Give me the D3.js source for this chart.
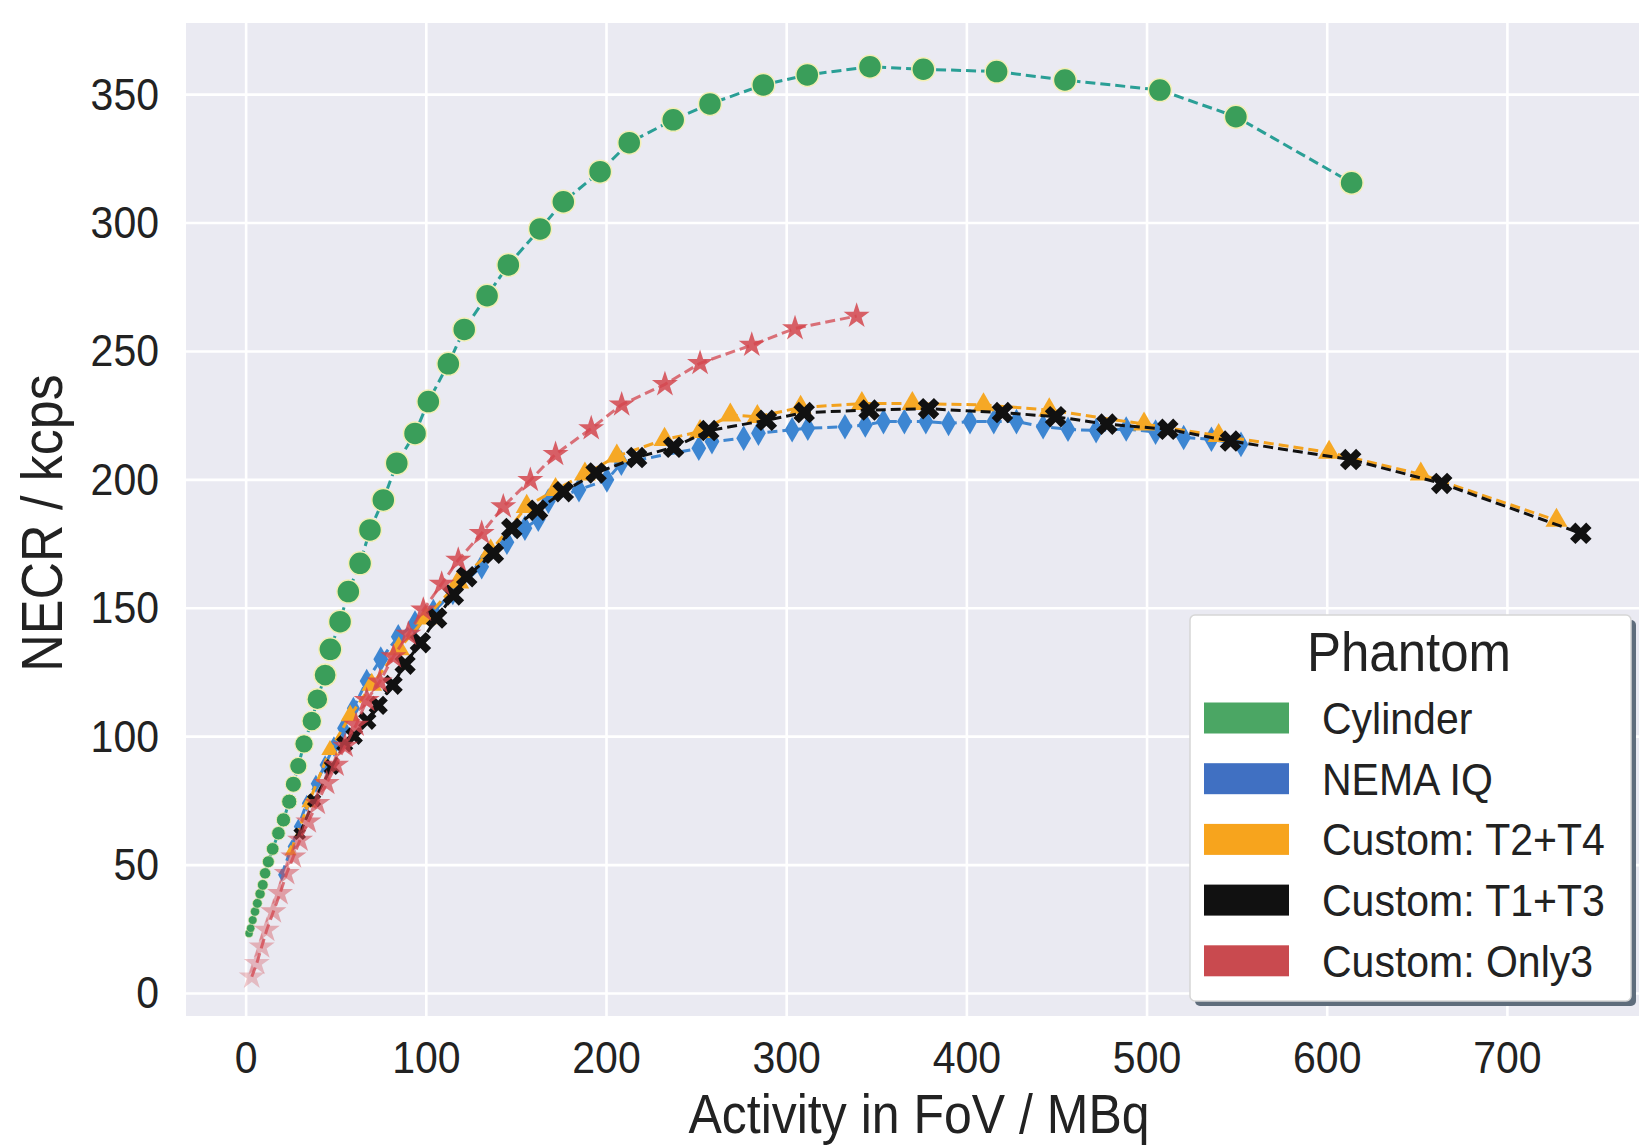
<!DOCTYPE html>
<html>
<head>
<meta charset="utf-8">
<script src="https://cdn.jsdelivr.net/npm/d3@7"></script>
<style>
body { margin:0; background:#fff; }
svg text { font-family: "Liberation Sans", Arial, sans-serif; fill:#222; }
</style>
</head>
<body>
<div id="graphe"></div>
<script>
// data (activity MBq / NECR kcps)
var cylX = [1.9,2.8,3.9,5.2,6.5,8.0,9.5,10.8,12.6,15.0,18.2,21.0,24.2,26.5,29.2,32.4,36.7,39.8,44.1,47.0,52.4,57.0,63.5,69.0,76.4,83.9,94.0,101.4,112.5,121.3,134.0,145.8,163.4,176.3,196.7,212.9,237.3,257.7,287.3,311.7,346.5,376.1,416.8,454.7,507.4,549.6,613.8];
var cylY = [23.2,25.2,28.4,31.7,34.9,38.6,42.1,46.6,51.1,56.1,62.2,67.4,74.5,81.3,88.4,97.0,105.9,114.4,123.8,133.8,144.6,156.3,167.3,180.3,192.0,206.3,217.9,230.3,245.0,258.4,271.5,283.5,297.5,308.1,319.8,331.1,340.0,346.2,353.6,357.5,360.7,359.7,358.8,355.5,351.6,341.2,315.5];

var nemaX = [20,25.6,29.2,33.9,39,44.1,49,54.2,59.8,67.2,75,84.7,94,104.2,115,131,145,155,162.4,168,185,200.5,208.5,251.5,258.8,276.4,284.6,303.3,312,332.6,343.9,354,365.6,377.5,390.1,402,415.2,427.8,442.6,456.4,472,488.7,505,520.6,536,552.4];
var nemaY = [46,57,64.8,73.9,81.5,88.8,96,103.1,110.9,121.5,130,138.7,144,148.5,156,166,175.5,181,184.5,191.5,196,199.8,206.3,212.1,214.7,216,218,219.3,219.9,220.5,221.2,222.5,222.5,222.5,221.8,222.5,222.5,222.5,220.5,219.5,219,219.6,218.4,216.3,215.6,213.6];

var t24X = [25,35,46.8,58,70,85,100,118,136,156,172,188.3,206,232.5,252.2,269,284,308,342,370,409.5,446,498.6,540,601.3,652.2,727.5];
var t24Y = [55,74,94.6,108,120,134,146,160,172,189.4,196,202,209,215.5,218.6,225,224.4,228,229.5,229.5,229,227,221.5,217,210.5,202,184];

var t13X = [30,38,47.8,55,60.2,67.5,73.6,81.6,88.5,97,106,115.3,122.7,137.5,147.7,162,176.3,194.5,217,237.5,257,289,310,346,379,420,449.5,478,511.8,546.6,613.3,663.8,741];
var t13Y = [62,75,88,97,100,106,112,120,128,136.4,146,155,162.1,171.2,180.9,188,195.2,202.5,208.5,212.5,219,223,226,227,227.5,226,224.4,221.5,219.5,214.9,207.7,198.4,179];

var only3X = [3.4,6.2,8.9,11.7,15.4,19.1,22.8,26.5,30.2,34.8,39.8,45.0,50.2,55.2,61.3,67.2,74.4,82.0,90.3,98.6,108.8,118.0,131.0,143.0,158.0,172.0,191.8,208.7,232.7,252.2,280.9,304.9,339.1];
var only3Y = [6.3,11.6,18.0,24.5,31.7,38.8,46.6,53.1,59.6,66.7,73.9,81.7,88.8,96.2,104.4,114.0,121.2,131.0,139.8,149.2,159.3,168.6,179.0,189.4,199.7,209.8,219.8,229.1,237.0,245.2,252.3,258.8,263.6];

var phantoms = ["Cylinder","NEMA IQ","Custom: T2+T4","Custom: T1+T3","Custom: Only3"];
var xTicks = [0,100,200,300,400,500,600,700];
var yTicks = [0,50,100,150,200,250,300,350];

var svgwidth = 1639, svgheight = 1145;
var box = {left:186, right:1639, top:23, bottom:1016};

function zipXY(xs, ys){
	var d=[];
	xs.forEach(function(v,i){ d.push({x:v, y:ys[i]}); });
	return d;
}

var series = [
	{name:phantoms[0], data:zipXY(cylX,cylY), line:"#2a9f96", fill:"#3a9e5a", edge:"#f3efb4", patch:"#4ba664", shape:"circle"},
	{name:phantoms[1], data:zipXY(nemaX,nemaY), line:"#3f86d0", fill:"#3d86d2", edge:"none", patch:"#4070c2", shape:"diamond"},
	{name:phantoms[2], data:zipXY(t24X,t24Y), line:"#f3a21e", fill:"#f6a825", edge:"none", patch:"#f7a41d", shape:"triangle"},
	{name:phantoms[3], data:zipXY(t13X,t13Y), line:"#111", fill:"#111", edge:"none", patch:"#111", shape:"x"},
	{name:phantoms[4], data:zipXY(only3X,only3Y), line:"#d3464e", fill:"#d3464e", edge:"none", patch:"#c94a4f", shape:"star"}
];

var x = d3.scaleLinear().domain([-33.1, 773.3]).range([box.left, box.right]);
var y = d3.scaleLinear().domain([-8.96, 377.7]).range([box.bottom, box.top]);
// markers get smaller near the origin (not the stars, they just fade)
var msize = d3.scaleLinear().domain([23,130]).range([0.35,1]).clamp(true);
var redFade = d3.scaleLinear().domain([5,110]).range([0.28,0.85]).clamp(true);

var svg = d3.select("#graphe").append("svg")
	.attr("width",svgwidth).attr("height",svgheight)
	.attr("viewBox","0 0 "+svgwidth+" "+svgheight);

svg.append("rect").attr("x",box.left).attr("y",box.top)
	.attr("width",box.right-box.left).attr("height",box.bottom-box.top)
	.attr("fill","#eaeaf2");

// grid + ticks
var gx = svg.append("g").attr("transform","translate(0,"+box.bottom+")")
	.call(d3.axisBottom(x).tickValues(xTicks).tickSize(-(box.bottom-box.top)).tickPadding(0));
var gy = svg.append("g").attr("transform","translate("+box.left+",0)")
	.call(d3.axisLeft(y).tickValues(yTicks).tickSize(-(box.right-box.left)).tickPadding(0));
[gx,gy].forEach(function(g){
	g.select(".domain").remove();
	g.selectAll("line").attr("stroke","#fff").attr("stroke-width",2.6);
	g.selectAll("text").attr("font-size",41).attr("fill","#222");
});
gx.selectAll("text").attr("y",0).attr("dy",null)
	.attr("transform","translate(0,57) scale(1,1.08)");
gy.selectAll("text").attr("x",0).attr("dy",null)
	.attr("transform","translate(-27,15) scale(1,1.08)");

var line = d3.line().x(function(d){return x(d.x);}).y(function(d){return y(d.y);});

function markerPath(shape){
	if(shape=="circle") return d3.symbol(d3.symbolCircle, Math.PI*11.5*11.5)();
	if(shape=="diamond") return d3.symbol(d3.symbolDiamond, 190)();
	if(shape=="triangle") return d3.symbol(d3.symbolTriangle, 210)();
	if(shape=="x") return d3.symbol(d3.symbolCross, 290)();
	return d3.symbol(d3.symbolStar, 210)();
}

series.forEach(function(s){
	var g = svg.append("g");
	g.append("path").datum(s.data)
		.attr("fill","none")
		.attr("stroke",s.line)
		.attr("stroke-width",3)
		.attr("stroke-dasharray","10,5")
		.attr("opacity", s.shape=="star" ? 0.75 : 1)
		.attr("d",line);
	var p = markerPath(s.shape);
	g.selectAll("path.mk").data(s.data).enter().append("path")
		.attr("class","mk")
		.attr("d",p)
		.attr("fill",s.fill)
		.attr("stroke",s.edge)
		.attr("stroke-width",s.edge=="none" ? 0 : 1.5)
		.attr("opacity",function(d){ return s.shape=="star" ? redFade(d.y) : 1; })
		.attr("transform",function(d){
			var k = s.shape=="star" ? 1 : msize(d.y);
			var t = "translate("+x(d.x)+","+y(d.y)+")";
			if(s.shape=="x") t += " rotate(45)";
			return t+" scale("+k+")";
		});
});

// axis labels
svg.append("text").attr("text-anchor","middle").attr("font-size",50)
	.attr("transform","translate(919,1133) scale(1,1.12)")
	.text("Activity in FoV / MBq");
svg.append("text").attr("text-anchor","middle").attr("font-size",52)
	.attr("transform","translate(62,523) rotate(-90) scale(1,1.12)")
	.text("NECR / kcps");

// legend
var lg = svg.append("g");
lg.append("rect").attr("x",1195).attr("y",620).attr("width",441).attr("height",386)
	.attr("rx",5).attr("fill","#5f6d7c");
lg.append("rect").attr("x",1190).attr("y",615).attr("width",441).attr("height",386)
	.attr("rx",5).attr("fill","#fff").attr("stroke","#d6d6d6").attr("stroke-width",1.5);
lg.append("text").attr("text-anchor","middle").attr("font-size",51)
	.attr("transform","translate(1409,671) scale(1,1.08)")
	.text("Phantom");
series.forEach(function(s,i){
	var cy = 718 + i*60.7;
	lg.append("rect").attr("x",1204).attr("y",cy-15.5).attr("width",85).attr("height",31)
		.attr("fill",s.patch);
	lg.append("text").attr("font-size",41)
		.attr("transform","translate(1322,"+(cy+16)+") scale(1,1.08)")
		.text(s.name);
});
</script>
</body>
</html>
